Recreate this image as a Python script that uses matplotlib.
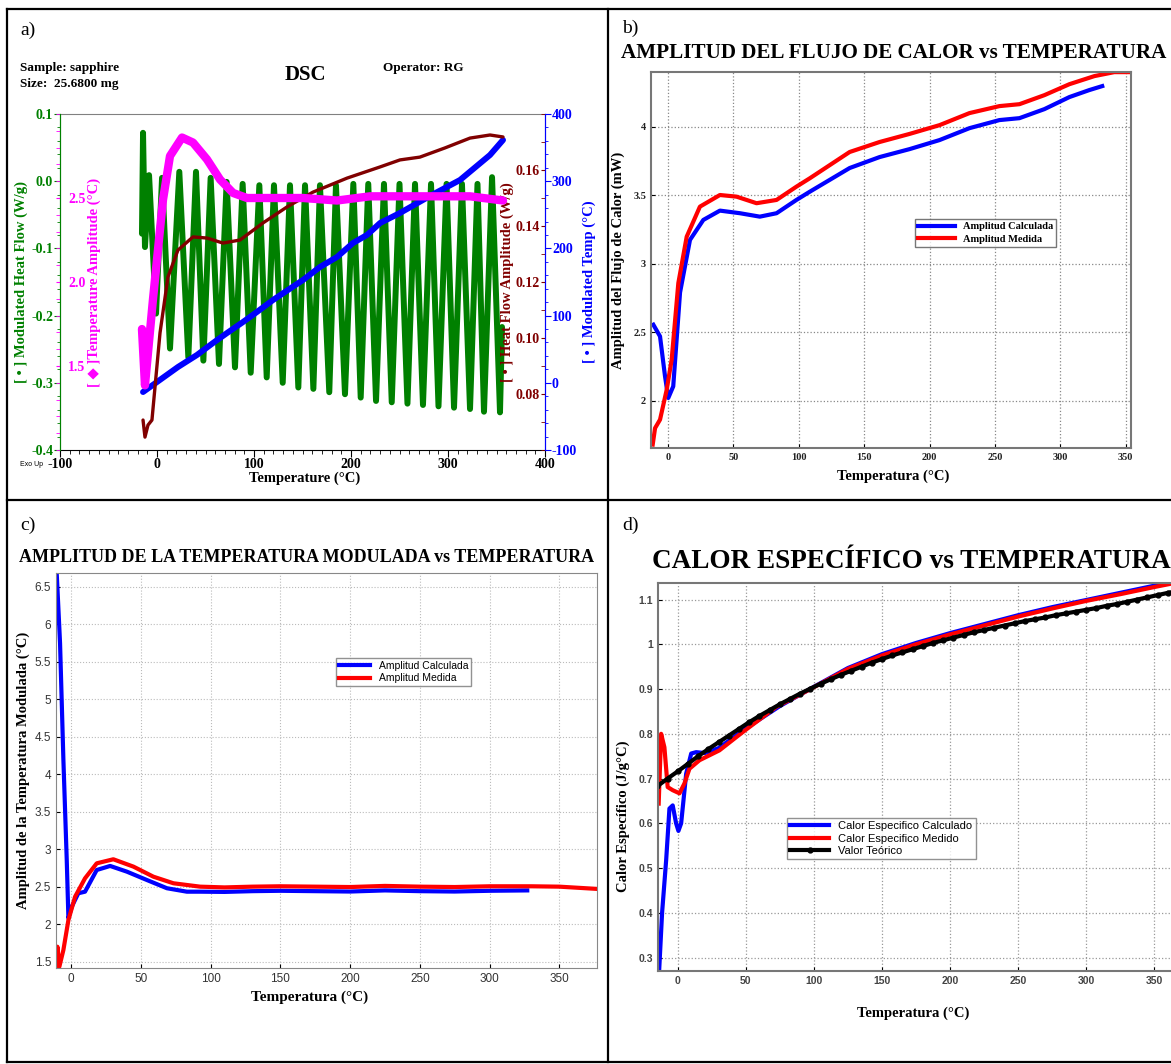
import matplotlib
matplotlib.use('Agg')
import matplotlib.pyplot as plt
from matplotlib.ticker import MultipleLocator
from matplotlib.lines import Line2D

plt.rcParams['font.family'] = ['Liberation Serif', 'DejaVu Sans']
plt.rcParams['font.weight'] = 'bold'
plt.rcParams['axes.labelweight'] = 'bold'
plt.rcParams['axes.unicode_minus'] = False

W, H = 1171, 1064
SANS = ['Liberation Sans', 'DejaVu Sans']

# ---- a) DSC: modulated heat flow (extrema of the oscillation), modulated temp,
#         temperature amplitude and heat flow amplitude
a_mhf_t = [-15.5, -14.4, -12.4, -8.2, -1.0, 5.2, 13.4, 23.0, 32.3, 40.2, 47.8, 55.3, 63.9,
           71.8, 80.4, 88.3, 96.6, 105.5, 113.1, 120.6, 129.6, 137.1, 145.7, 152.6, 161.2,
           168.0, 177.6, 184.5, 193.8, 202.4, 210.0, 217.8, 225.8, 234.0, 242.0, 250.0,
           258.2, 266.0, 274.2, 282.5, 290.2, 298.5, 306.2, 314.4, 322.7, 330.4, 337.1,
           345.4, 353.6, 355.7]
a_mhf_v = [-0.078, 0.072, -0.098, 0.009, -0.197, 0.005, -0.249, 0.014, -0.262, 0.014, -0.267,
           0.005, -0.272, -0.001, -0.277, -0.004, -0.285, -0.006, -0.292, -0.006, -0.300,
           -0.006, -0.307, -0.006, -0.309, -0.006, -0.314, -0.006, -0.317, -0.004, -0.322,
           -0.004, -0.327, -0.004, -0.329, -0.004, -0.331, -0.004, -0.333, -0.004, -0.335,
           -0.004, -0.337, -0.004, -0.339, -0.004, -0.343, 0.006, -0.344, -0.217]

a_mt_t = [-14.4, 0.0, 21.6, 41.2, 57.7, 72.2, 88.7, 103.0, 119.6, 135.0, 150.5, 168.0, 185.6,
          202.0, 216.5, 230.0, 250.5, 281.4, 312.4, 343.3, 356.7]
a_mt_v = [-13.7, 1.2, 23.5, 41.4, 59.2, 74.1, 90.5, 105.4, 123.2, 138.1, 153.0, 172.3, 187.2,
          208.0, 220.0, 237.8, 252.7, 278.0, 301.8, 339.0, 361.3]

a_ta_t = [-15.5, -12.4, -4.1, 6.2, 13.4, 25.8, 37.1, 51.5, 65.0, 78.4, 92.8, 116.5, 150.5,
          185.6, 219.6, 271.0, 322.7, 356.7]
a_ta_v = [1.72, 1.385, 1.90, 2.49, 2.75, 2.86, 2.83, 2.73, 2.61, 2.53, 2.50, 2.50, 2.50,
          2.485, 2.51, 2.51, 2.51, 2.485]

a_hfa_t = [-14.4, -12.4, -9.3, -5.2, 3.1, 11.3, 21.6, 37.1, 51.5, 68.0, 85.6, 109.3, 134.0,
           160.8, 195.9, 230.0, 250.5, 271.0, 297.0, 322.7, 343.3, 356.7]
a_hfa_v = [0.0707, 0.0646, 0.0689, 0.0707, 0.1018, 0.1218, 0.1314, 0.1361, 0.1357, 0.1339,
           0.1350, 0.1411, 0.1468, 0.1521, 0.1571, 0.1611, 0.1636, 0.1646, 0.1679, 0.1714,
           0.1725, 0.1718]

# ---- b) heat flow amplitude
b_calc_t = [-11.2, -6.1, -2.3, 0.2, 4.0, 9.2, 16.8, 27.0, 39.7, 55.0, 70.2, 83.0, 98.2, 108.4,
            138.9, 161.8, 184.7, 207.6, 230.5, 253.4, 268.7, 287.8, 306.9, 322.1, 332.0]
b_calc_v = [2.555, 2.47, 2.18, 2.02, 2.105, 2.79, 3.174, 3.32, 3.388, 3.369, 3.344, 3.369,
            3.466, 3.526, 3.699, 3.779, 3.837, 3.903, 3.990, 4.049, 4.063, 4.129, 4.217,
            4.268, 4.297]
b_med_t = [-11.7, -9.9, -6.1, -1.0, 2.8, 7.9, 14.3, 24.4, 39.7, 52.4, 67.7, 83.0, 98.2, 108.4,
           138.9, 161.8, 184.7, 207.6, 230.5, 253.4, 268.7, 287.8, 306.9, 326.0, 341.2, 355.0]
b_med_v = [1.68, 1.80, 1.862, 2.08, 2.30, 2.859, 3.198, 3.417, 3.502, 3.49, 3.442, 3.466,
           3.563, 3.624, 3.816, 3.889, 3.948, 4.012, 4.100, 4.151, 4.165, 4.231, 4.311,
           4.370, 4.399, 4.399]

# ---- c) modulated temperature amplitude
c_calc_t = [-10.3, -7.9, -5.5, -3.1, -1.9, 0.5, 5.2, 10.0, 18.4, 28.0, 40.0, 54.3, 68.7, 83.0,
            92.5, 110, 130, 150, 175, 200, 225, 250, 275, 300, 327]
c_calc_v = [6.68, 5.745, 4.19, 2.856, 2.079, 2.233, 2.412, 2.433, 2.722, 2.776, 2.70, 2.589,
            2.479, 2.433, 2.433, 2.43, 2.44, 2.445, 2.44, 2.435, 2.45, 2.44, 2.435, 2.445, 2.45]
c_med_t = [-10.3, -9.8, -8.4, -5.5, -1.9, 2.9, 10.0, 18.4, 30.3, 44.7, 59.0, 73.4, 92.5, 110,
           130, 150, 175, 200, 225, 250, 275, 300, 330, 350, 377]
c_med_v = [1.39, 1.70, 1.433, 1.656, 2.056, 2.367, 2.611, 2.811, 2.865, 2.767, 2.633, 2.545,
           2.50, 2.49, 2.50, 2.505, 2.50, 2.495, 2.51, 2.50, 2.495, 2.505, 2.505, 2.50, 2.47]

# ---- d) specific heat
d_calc_t = [-14, -11.5, -8.5, -6.1, -3.7, -1.2, 0.5, 2.5, 6.2, 9.9, 13.5, 20, 30, 50, 75, 100,
            125, 150, 175, 200, 225, 250, 275, 300, 325, 350, 365]
d_calc_v = [0.25, 0.40, 0.518, 0.633, 0.64, 0.60, 0.583, 0.60, 0.711, 0.756, 0.759, 0.757,
            0.768, 0.812, 0.862, 0.905, 0.947, 0.978, 1.003, 1.025, 1.045, 1.065, 1.083,
            1.099, 1.115, 1.131, 1.140]
d_med_t = [-14, -12.2, -9.8, -7.4, -3.7, 1.3, 4.9, 8.6, 16, 30.6, 47.8, 72.3, 95.6, 125, 150,
           175, 200, 225, 250, 275, 300, 325, 350, 365]
d_med_v = [0.644, 0.80, 0.77, 0.681, 0.674, 0.667, 0.689, 0.722, 0.741, 0.763, 0.804, 0.860,
           0.897, 0.945, 0.975, 1.0, 1.022, 1.042, 1.062, 1.080, 1.097, 1.112, 1.128, 1.137]
d_teo_t = [-15, -7.5, 0, 7.5, 15, 22.5, 30, 37.5, 45, 52.5, 60, 67.5, 75, 82.5, 90, 97.5, 105,
           112.5, 120, 127.5, 135, 142.5, 150, 157.5, 165, 172.5, 180, 187.5, 195, 202.5, 210,
           217.5, 225, 232.5, 240, 247.5, 255, 262.5, 270, 277.5, 285, 292.5, 300, 307.5, 315,
           322.5, 330, 337.5, 345, 352.5, 360, 367.5]
d_teo_v = [0.683, 0.700, 0.716, 0.733, 0.750, 0.766, 0.781, 0.796, 0.811, 0.826, 0.840, 0.853,
           0.866, 0.878, 0.890, 0.901, 0.912, 0.922, 0.932, 0.941, 0.950, 0.959, 0.967, 0.975,
           0.982, 0.989, 0.996, 1.003, 1.009, 1.015, 1.021, 1.027, 1.032, 1.037, 1.042, 1.047,
           1.052, 1.056, 1.060, 1.065, 1.069, 1.073, 1.077, 1.081, 1.086, 1.090, 1.095, 1.100,
           1.105, 1.110, 1.115, 1.119]

GREEN, MAG, BROWN, BLUE = '#008000', '#FF00FF', '#800000', '#0000FF'


def box(l, t, r, b):
    return [l / W, 1 - b / H, (r - l) / W, (b - t) / H]


def ftext(x, y, s, **kw):
    fig.text(x / W, 1 - y / H, s, **kw)


fig = plt.figure(figsize=(W / 100, H / 100), dpi=100)

# panel frame
for x0, y0, x1, y1 in [(7, 9, 1171, 9), (7, 9, 7, 1062), (608, 9, 608, 1062),
                       (7, 500, 1171, 500), (7, 1062, 1171, 1062)]:
    fig.add_artist(Line2D([x0 / W, x1 / W], [1 - y0 / H, 1 - y1 / H], color='black', lw=1.6))

# ================= a) =================
ftext(20, 30, 'a)', fontsize=14, fontweight='normal', va='center')
ftext(20, 68, 'Sample: sapphire', fontsize=9.5, va='center')
ftext(20, 84, 'Size:  25.6800 mg', fontsize=9.5, va='center')
ftext(305, 75, 'DSC', fontsize=15, ha='center', va='center')
ftext(383, 68, 'Operator: RG', fontsize=9.5, va='center')
ftext(20, 465, 'Exo Up', fontsize=5, family=SANS, fontweight='normal', va='center')

axa = fig.add_axes(box(60, 114, 545, 450))
axa.plot(a_mhf_t, a_mhf_v, color=GREEN, lw=4.3, solid_joinstyle='round', solid_capstyle='round')
axa.set_xlim(-100, 400)
axa.set_ylim(-0.4, 0.1)
axa.xaxis.set_major_locator(MultipleLocator(100))
axa.xaxis.set_minor_locator(MultipleLocator(10))
axa.yaxis.set_major_locator(MultipleLocator(0.1))
axa.yaxis.set_minor_locator(MultipleLocator(0.02))
axa.yaxis.set_major_formatter(lambda v, p: f'{v:.1f}')
axa.tick_params(axis='x', which='major', length=5, labelsize=10, pad=1)
axa.tick_params(axis='x', which='minor', length=3)
axa.tick_params(axis='y', which='both', color=GREEN, labelcolor=GREEN, labelsize=10, pad=1)
axa.tick_params(axis='y', which='major', length=4)
axa.tick_params(axis='y', which='minor', length=2)
axa.spines['left'].set_color(GREEN)
axa.spines['top'].set_color('#808080')
axa.spines['right'].set_visible(False)
axa.set_ylabel('[ • ] Modulated Heat Flow (W/g)', color=GREEN, fontsize=10.5, labelpad=2)
ftext(305, 478, 'Temperature (°C)', fontsize=10.5, ha='center', va='center')

# modulated temperature, right axis
axt = axa.twinx()
axt.plot(a_mt_t, a_mt_v, color=BLUE, lw=4.3, solid_capstyle='round')
axt.set_ylim(-100, 400)
axt.yaxis.set_major_locator(MultipleLocator(100))
axt.yaxis.set_minor_locator(MultipleLocator(20))
axt.tick_params(axis='y', which='both', color=BLUE, labelcolor=BLUE, labelsize=10, pad=1)
axt.tick_params(axis='y', which='major', length=4)
axt.tick_params(axis='y', which='minor', length=2)
axt.spines['right'].set_color(BLUE)
for s in ('left', 'top', 'bottom'):
    axt.spines[s].set_visible(False)
axt.set_ylabel('[ • ] Modulated Temp (°C)', color=BLUE, fontsize=10.5, labelpad=4)

# heat flow amplitude, labels inside the right edge
axh = axa.twinx()
axh.plot(a_hfa_t, a_hfa_v, color=BROWN, lw=2.4, solid_capstyle='round')
axh.set_ylim(0.06, 0.18)
axh.spines['left'].set_position(('axes', 1.0))
axh.spines['left'].set_color(BLUE)
axh.yaxis.set_ticks_position('left')
axh.yaxis.set_label_position('left')
for s in ('right', 'top', 'bottom'):
    axh.spines[s].set_visible(False)
axh.set_yticks([0.08, 0.10, 0.12, 0.14, 0.16])
axh.yaxis.set_major_formatter(lambda v, p: f'{v:.2f}')
axh.yaxis.set_minor_locator(MultipleLocator(0.01))
axh.tick_params(axis='y', which='both', color=BROWN, labelcolor=BROWN, labelsize=10,
                length=3, pad=1)
axh.set_ylabel('[ • ] Heat Flow Amplitude (W/g)', color=BROWN, fontsize=10.5, labelpad=1)

# temperature amplitude, labels inside the left edge
axm = axa.twinx()
axm.plot(a_ta_t, a_ta_v, color=MAG, lw=6, solid_capstyle='round')
axm.set_ylim(1.0, 3.0)
axm.spines['right'].set_position(('axes', 0.0))
axm.spines['right'].set_color(GREEN)
for s in ('left', 'top', 'bottom'):
    axm.spines[s].set_visible(False)
axm.set_yticks([1.5, 2.0, 2.5])
axm.yaxis.set_major_formatter(lambda v, p: f'{v:.1f}')
axm.yaxis.set_minor_locator(MultipleLocator(0.1))
axm.tick_params(axis='y', which='both', color=MAG, labelcolor=MAG, labelsize=10,
                direction='in', length=3, pad=6)
axm.set_ylabel('[ ◆ ]Temperature Amplitude (°C)', color=MAG, fontsize=10.5, labelpad=1)

# ================= b) =================
ftext(622, 28, 'b)', fontsize=14, fontweight='normal', va='center')
ftext(894, 53, 'AMPLITUD DEL FLUJO DE CALOR vs TEMPERATURA', fontsize=15.2, fontweight='heavy',
      ha='center', va='center')
axb = fig.add_axes(box(651, 72, 1131, 448))
axb.plot(b_calc_t, b_calc_v, color=BLUE, lw=3, label='Amplitud Calculada')
axb.plot(b_med_t, b_med_v, color='#FF0000', lw=3, label='Amplitud Medida')
axb.set_xlim(-13, 354)
axb.set_ylim(1.655, 4.40)
axb.set_xticks(range(0, 351, 50))
axb.set_yticks([2, 2.5, 3, 3.5, 4])
axb.set_yticklabels(['2', '2.5', '3', '3.5', '4'])
axb.grid(True, ls=':', color='#888888', lw=0.9)
axb.tick_params(labelsize=7.5, labelcolor='#222222', direction='in', length=3)
for s in axb.spines.values():
    s.set_color('#777777')
    s.set_linewidth(1.5)
axb.set_ylabel('Amplitud del Flujo de Calor (mW)', fontsize=10.5, labelpad=6)
ftext(893, 476, 'Temperatura (°C)', fontsize=10.5, ha='center', va='center')
axb.legend(loc='upper left', bbox_to_anchor=(915 / W, 1 - 219 / H), bbox_transform=fig.transFigure,
           fontsize=7.5, frameon=True, fancybox=False, edgecolor='#555555', handlelength=3.5,
           borderpad=0.3, labelspacing=0.3, borderaxespad=0)

# ================= c) =================
ftext(20, 525, 'c)', fontsize=14, fontweight='normal', va='center')
ftext(307, 557, 'AMPLITUD DE LA TEMPERATURA MODULADA vs TEMPERATURA', fontsize=13,
      ha='center', va='center')
axc = fig.add_axes(box(56, 573, 597, 968))
axc.plot(c_calc_t, c_calc_v, color=BLUE, lw=3, label='Amplitud Calculada')
axc.plot(c_med_t, c_med_v, color='#FF0000', lw=3, label='Amplitud Medida')
axc.set_xlim(-10.8, 377)
axc.set_ylim(1.416, 6.68)
axc.set_xticks(range(0, 351, 50))
axc.set_yticks([1.5, 2, 2.5, 3, 3.5, 4, 4.5, 5, 5.5, 6, 6.5])
axc.set_yticklabels(['1.5', '2', '2.5', '3', '3.5', '4', '4.5', '5', '5.5', '6', '6.5'])
axc.grid(True, ls=':', color='#BBBBBB', lw=0.8)
axc.tick_params(labelsize=8.5, labelcolor='#333333', direction='in', length=3)
plt.setp(axc.get_xticklabels() + axc.get_yticklabels(), family=SANS, fontweight='normal')
for s in axc.spines.values():
    s.set_color('#888888')
axc.set_ylabel('Amplitud de la Temperatura Modulada (°C)', fontsize=10.5, labelpad=3)
ftext(310, 997, 'Temperatura (°C)', fontsize=11, ha='center', va='center')
axc.legend(loc='upper left', bbox_to_anchor=(336 / W, 1 - 658 / H), bbox_transform=fig.transFigure,
           prop={'family': SANS, 'size': 7.5, 'weight': 'normal'}, frameon=True, fancybox=False,
           edgecolor='#777777', handlelength=3.0, borderpad=0.3, labelspacing=0.2,
           borderaxespad=0)

# ================= d) =================
ftext(622, 525, 'd)', fontsize=14, fontweight='normal', va='center')
ftext(652, 562, 'CALOR ESPECÍFICO vs TEMPERATURA', fontsize=19.5, ha='left', va='center')
axd = fig.add_axes(box(658, 583, 1180, 971))
axd.plot(d_calc_t, d_calc_v, color=BLUE, lw=3, label='Calor Especifico Calculado')
axd.plot(d_med_t, d_med_v, color='#FF0000', lw=3, label='Calor Especifico Medido')
axd.plot(d_teo_t, d_teo_v, color='black', lw=3, marker='o', ms=3.5, label='Valor Teórico')
axd.set_xlim(-14.5, 368.9)
axd.set_ylim(0.27, 1.137)
axd.set_xticks(range(0, 351, 50))
axd.set_yticks([0.3, 0.4, 0.5, 0.6, 0.7, 0.8, 0.9, 1.0, 1.1])
axd.set_yticklabels(['0.3', '0.4', '0.5', '0.6', '0.7', '0.8', '0.9', '1', '1.1'])
axd.grid(True, ls=':', color='#999999', lw=0.9)
axd.tick_params(labelsize=7.5, labelcolor='#444444', direction='in', length=3)
plt.setp(axd.get_xticklabels() + axd.get_yticklabels(), family=SANS)
for s in axd.spines.values():
    s.set_color('#777777')
    s.set_linewidth(1.5)
axd.set_ylabel('Calor Específico (J/g°C)', fontsize=10.5, labelpad=6, y=0.4)
ftext(913, 1013, 'Temperatura (°C)', fontsize=10.5, ha='center', va='center')
axd.legend(loc='upper left', bbox_to_anchor=(787 / W, 1 - 818 / H), bbox_transform=fig.transFigure,
           prop={'family': SANS, 'size': 8, 'weight': 'normal'}, frameon=True, fancybox=False,
           edgecolor='#777777', handlelength=3.5, borderpad=0.3, labelspacing=0.2,
           borderaxespad=0)

fig.savefig('out.png', dpi=100)
